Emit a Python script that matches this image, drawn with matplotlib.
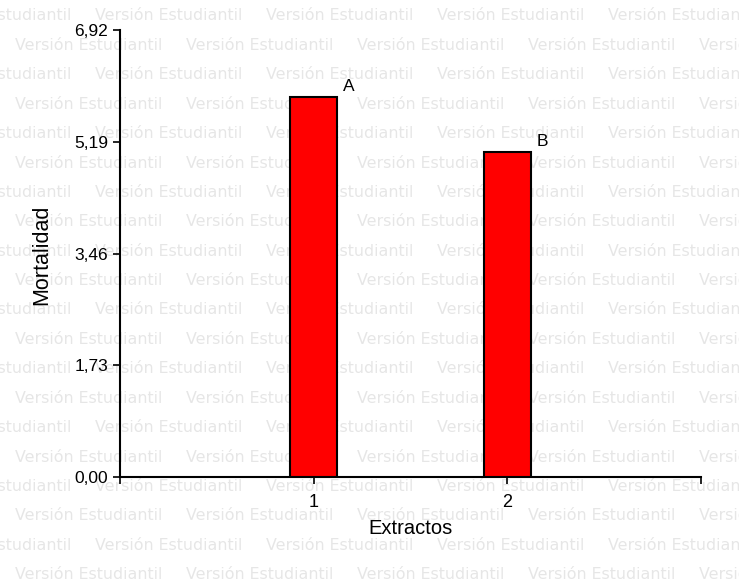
import matplotlib

matplotlib.use("Agg")

import matplotlib.pyplot as plt
import numpy as np

# data
extractos = ["1", "2"]
mortalidad = [5.88, 5.03]
letras = ["A", "B"]
yticks = [0.00, 1.73, 3.46, 5.19, 6.92]

_RED = "#ff0000"
_WM = "#e6e6e6"

plt.rcParams["font.family"] = ["Liberation Sans", "DejaVu Sans"]

fig = plt.figure(figsize=(7.39, 5.86), dpi=100)
W, H = 739, 586

# "Versión Estudiantil" watermark behind the chart
for i in range(20):
    y = 16 + 29.4 * i
    x0 = 15 if i % 2 else -76
    for k in range(5):
        fig.text((x0 + 171 * k) / W, 1 - y / H, "Versión Estudiantil",
                 family="DejaVu Sans", fontsize=11.4, color=_WM,
                 ha="left", va="center", zorder=-5)

ax = fig.add_axes([120 / W, 1 - 477 / H, (701 - 120) / W, (477 - 30) / H])
ax.set_zorder(1)
ax.patch.set_alpha(0)

xs = np.arange(1, len(extractos) + 1)
ax.bar(xs, mortalidad, width=0.245, color=_RED, edgecolor="black",
       linewidth=1.5, zorder=3)
for x, v, s in zip(xs, mortalidad, letras):
    ax.annotate(s, (x + 0.122, v), textcoords="offset points", xytext=(8, 2),
                ha="center", va="bottom", fontsize=12.5)

ax.set_xlim(0, 3)
ax.set_ylim(0, 6.92)
ax.set_xticks([0, 1, 2, 3])
ax.set_xticklabels(["", extractos[0], extractos[1], ""], fontsize=13)
ax.set_yticks(yticks)
ax.set_yticklabels([f"{t:.2f}".replace(".", ",") for t in yticks], fontsize=12.5)
ax.tick_params(length=5, width=1.2)
ax.tick_params(axis="x", pad=7)
for side in ("top", "right"):
    ax.spines[side].set_visible(False)
for side in ("left", "bottom"):
    ax.spines[side].set_linewidth(1.5)

ax.set_xlabel("Extractos", fontsize=14.5, labelpad=6)
ax.set_ylabel("Mortalidad", fontsize=15.5)
ax.yaxis.set_label_coords(-0.116, 0.497)

fig.savefig("out.png", dpi=100)
plt.close(fig)
